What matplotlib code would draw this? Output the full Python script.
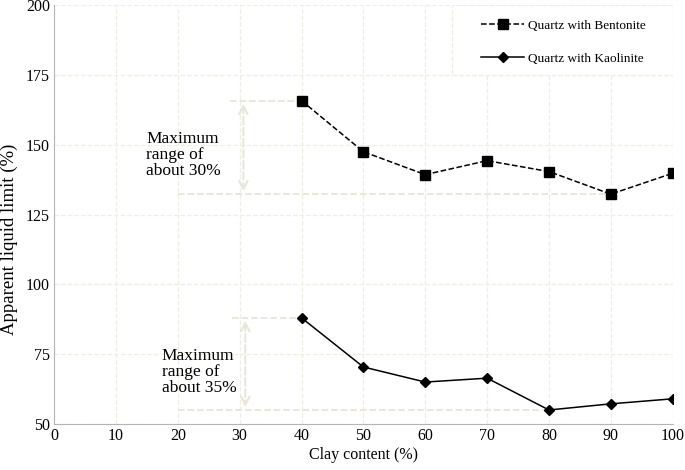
import matplotlib.pyplot as plt
from matplotlib.patches import Rectangle

plt.rcParams['font.family'] = ['Liberation Serif', 'DejaVu Serif']

clay = [40, 50, 60, 70, 80, 90, 100]
bentonite = [165.8, 147.5, 139.3, 144.3, 140.4, 132.3, 139.8]
kaolinite = [88.0, 70.4, 65.0, 66.4, 55.0, 57.2, 59.0]

grid_col = '#efeee3'
ann_col = '#e8e6d8'

fig, ax = plt.subplots(figsize=(6.85, 4.7), dpi=100)
fig.subplots_adjust(left=0.079, right=0.982, top=0.989, bottom=0.098)

ax.plot(clay, bentonite, 'k--', marker='s', markersize=6.5, linewidth=1.1,
        label='Quartz with Bentonite')
ax.plot(clay, kaolinite, 'k-', marker='D', markersize=5, linewidth=1.1,
        label='Quartz with Kaolinite')

# annotation lines and arrows
ax.plot([28.4, 40], [bentonite[0], bentonite[0]], '--', color=ann_col, lw=1.3, zorder=1)
ax.plot([20, 90], [min(bentonite), min(bentonite)], '--', color=ann_col, lw=1.3, zorder=1)
ax.annotate('', xy=(30.6, min(bentonite)), xytext=(30.6, bentonite[0]),
            arrowprops=dict(arrowstyle='<->', color=ann_col, lw=1.5, ls='--',
                            mutation_scale=15))
ax.plot([28.8, 40], [kaolinite[0], kaolinite[0]], '--', color=ann_col, lw=1.3, zorder=1)
ax.plot([20, 80], [min(kaolinite), min(kaolinite)], '--', color=ann_col, lw=1.3, zorder=1)
ax.annotate('', xy=(30.9, min(kaolinite)), xytext=(30.9, kaolinite[0]),
            arrowprops=dict(arrowstyle='<->', color=ann_col, lw=1.5, ls='--',
                            mutation_scale=15))

ax.text(14.9, 146.5, 'Maximum\nrange of\nabout 30%', fontsize=12.5, va='center',
        linespacing=1.0)
ax.text(17.4, 68.5, 'Maximum\nrange of\nabout 35%', fontsize=12.5, va='center',
        linespacing=1.0)

ax.set_xlim(0, 100)
ax.set_ylim(50, 200)
ax.set_xticks(range(0, 101, 10))
ax.set_yticks(range(50, 201, 25))
ax.grid(True, color=grid_col, linestyle='--', linewidth=0.9)
ax.set_axisbelow(True)
for s in ['top', 'right']:
    ax.spines[s].set_visible(False)
for s in ['left', 'bottom']:
    ax.spines[s].set_color('#b5b5b5')
ax.tick_params(length=0, labelsize=11.5, pad=3)
ax.set_xlabel('Clay content (%)', fontsize=11.5, labelpad=2)
ax.set_ylabel('Apparent liquid limit (%)', fontsize=13.5)
ax.yaxis.set_label_coords(-0.059, 0.44)

# legend box
ax.add_patch(Rectangle((0.643, 0.833), 0.357, 0.167, transform=ax.transAxes,
                       fill=True, facecolor='white', edgecolor=grid_col,
                       linestyle='--', linewidth=0.9, zorder=4))
leg = ax.legend(loc='upper left', bbox_to_anchor=(0.69, 0.965), fontsize=9.5,
                frameon=False, borderpad=0, labelspacing=1.55, handlelength=3.3,
                handletextpad=0.3, borderaxespad=0.0)
leg.set_zorder(5)

plt.savefig('out.png')
